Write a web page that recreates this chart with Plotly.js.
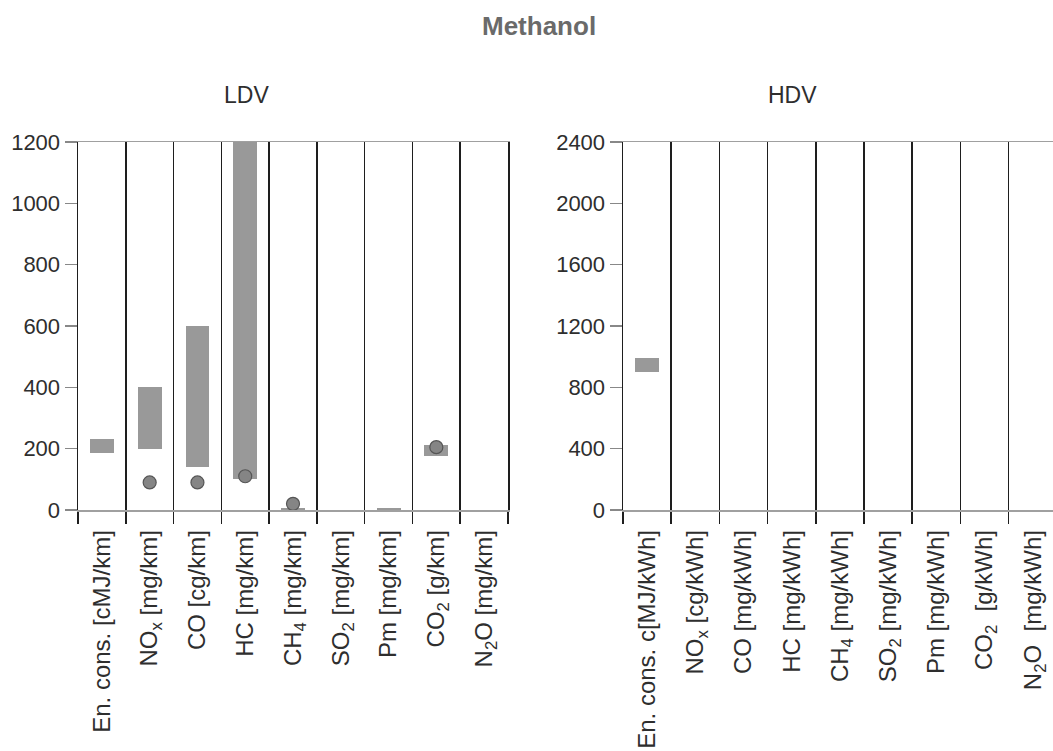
<!DOCTYPE html>
<html>
<head>
<meta charset="utf-8">
<script src="https://cdn.plot.ly/plotly-3.0.1.min.js"></script>
<style>
  html, body { margin: 0; padding: 0; background: #fff; }
  #chart { width: 1053px; height: 751px; }
</style>
</head>
<body>
<div id="chart"></div>
<script>
// Light duty vehicles (LDV)
const ldvCategories = [
  'En. cons. [cMJ/km]', 'NO<sub>x</sub> [mg/km]', 'CO [cg/km]', 'HC [mg/km]',
  'CH<sub>4</sub> [mg/km]', 'SO<sub>2</sub> [mg/km]', 'Pm [mg/km]',
  'CO<sub>2</sub> [g/km]', 'N<sub>2</sub>O [mg/km]'
];
const ldvRangeLow  = [185, 200, 140, 100, 0, null, 0, 175, null];
const ldvRangeHigh = [230, 400, 600, 1200, 8, null, 5, 212, null];
const ldvPoint     = [null, 90, 90, 110, 20, null, null, 205, null];

// Heavy duty vehicles (HDV)
const hdvCategories = [
  'En. cons. c[MJ/kWh]', 'NO<sub>x</sub> [cg/kWh]', 'CO [mg/kWh]', 'HC [mg/kWh]',
  'CH<sub>4</sub> [mg/kWh]', 'SO<sub>2</sub> [mg/kWh]', 'Pm [mg/kWh]',
  'CO<sub>2</sub>  [g/kWh]', 'N<sub>2</sub>O  [mg/kWh]'
];
const hdvRangeLow  = [900, null, null, null, null, null, null, null, null];
const hdvRangeHigh = [990, null, null, null, null, null, null, null, null];

const ldvTicks = [0, 200, 400, 600, 800, 1000, 1200];
const hdvTicks = [0, 400, 800, 1200, 1600, 2000, 2400];

const FONT = 'Liberation Sans, Arial, Helvetica, sans-serif';
const TEXT = '#2e2e2e';
const BAR = '#999999';

function rangeBars(cats, lo, hi, xa, ya) {
  const x = [], base = [], len = [];
  cats.forEach((c, i) => {
    if (lo[i] !== null && hi[i] !== null) {
      x.push(c); base.push(lo[i]); len.push(hi[i] - lo[i]);
    }
  });
  return {
    type: 'bar', x: x, y: len, base: base, width: 0.5,
    xaxis: xa, yaxis: ya,
    marker: { color: BAR, line: { width: 0 } },
    hoverinfo: 'skip', showlegend: false
  };
}

function points(cats, vals, xa, ya) {
  const x = [], y = [];
  cats.forEach((c, i) => { if (vals[i] !== null) { x.push(c); y.push(vals[i]); } });
  return {
    type: 'scatter', mode: 'markers', x: x, y: y, xaxis: xa, yaxis: ya,
    marker: { size: 13, color: '#858585', line: { color: '#555', width: 1.2 } },
    cliponaxis: false, hoverinfo: 'skip', showlegend: false
  };
}

const traces = [
  rangeBars(ldvCategories, ldvRangeLow, ldvRangeHigh, 'x', 'y'),
  points(ldvCategories, ldvPoint, 'x', 'y'),
  rangeBars(hdvCategories, hdvRangeLow, hdvRangeHigh, 'x2', 'y2')
];

function catAxis(domain, cats, range) {
  return {
    domain: domain, type: 'category', categoryorder: 'array', categoryarray: cats,
    range: range, tickson: 'boundaries',
    showgrid: true, gridcolor: '#1e1e1e', gridwidth: 1.5,
    ticks: 'outside', ticklen: 12, tickwidth: 1.5, tickcolor: '#1e1e1e',
    showline: true, linecolor: '#a0a0a0', linewidth: 1.5, mirror: true,
    tickangle: -90, ticklabelstandoff: 9,
    tickfont: { family: FONT, size: 24, color: TEXT },
    zeroline: false, fixedrange: true
  };
}

function valAxis(domain, ticks, anchor) {
  return {
    domain: domain, anchor: anchor, range: [0, ticks[ticks.length - 1]],
    tickvals: ticks, ticktext: ticks.map(String),
    ticks: 'outside', ticklen: 12, tickwidth: 1.2, tickcolor: '#888',
    showgrid: false, zeroline: false,
    showline: true, linecolor: '#1e1e1e', linewidth: 1.5, mirror: true,
    tickfont: { family: FONT, size: 22, color: TEXT },
    fixedrange: true
  };
}

const W = 1053, H = 751;
const yDom = [1 - 510 / H, 1 - 142 / H];

const layout = {
  width: W, height: H,
  margin: { l: 0, r: 0, t: 0, b: 0 },
  paper_bgcolor: '#fff', plot_bgcolor: '#fff',
  showlegend: false, bargap: 0,
  xaxis: Object.assign(catAxis([78 / W, 508 / W], ldvCategories, [-0.5, 8.5]), { anchor: 'y' }),
  yaxis: valAxis(yDom, ldvTicks, 'x'),
  xaxis2: Object.assign(catAxis([623 / W, 1], hdvCategories, [-0.5, 8.42]), { anchor: 'y2' }),
  yaxis2: valAxis(yDom, hdvTicks, 'x2'),
  annotations: [
    { text: '<b>Methanol</b>', xref: 'paper', yref: 'paper', x: 539 / W, y: 1 - 26 / H,
      showarrow: false, xanchor: 'center', yanchor: 'middle',
      font: { family: FONT, size: 26, color: '#6a6a6a' } },
    { text: 'LDV', xref: 'paper', yref: 'paper', x: 246 / W, y: 1 - 95 / H,
      showarrow: false, xanchor: 'center', yanchor: 'middle',
      font: { family: FONT, size: 23, color: TEXT } },
    { text: 'HDV', xref: 'paper', yref: 'paper', x: 792 / W, y: 1 - 95 / H,
      showarrow: false, xanchor: 'center', yanchor: 'middle',
      font: { family: FONT, size: 23, color: TEXT } }
  ]
};

Plotly.newPlot('chart', traces, layout, { displayModeBar: false, staticPlot: true });
</script>
</body>
</html>
